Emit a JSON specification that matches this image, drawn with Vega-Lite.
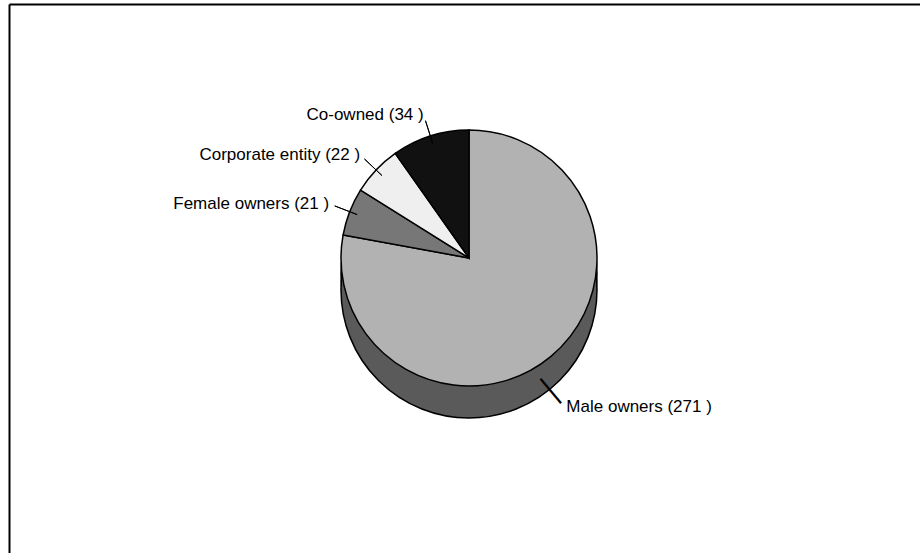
{
  "$schema": "https://vega.github.io/schema/vega-lite/v6.json",
  "width": 911,
  "height": 549,
  "autosize": {"type": "none"},
  "padding": {"left": 9, "top": 4, "right": 0, "bottom": 0},
  "background": "white",
  "config": {"view": {"stroke": null}, "font": "Liberation Sans"},
  "data": {
    "values": [
      {"category": "Male owners", "value": 271, "label": "Male owners (271 )"},
      {"category": "Female owners", "value": 21, "label": "Female owners (21 )"},
      {"category": "Corporate entity", "value": 22, "label": "Corporate entity (22 )"},
      {"category": "Co-owned", "value": 34, "label": "Co-owned (34 )"}
    ]
  },
  "layer": [
    {
      "mark": {"type": "point", "opacity": 0, "size": 0},
      "encoding": {
        "x": {"datum": 0, "type": "quantitative", "scale": {"domain": [0, 1]},
              "axis": {"orient": "top", "domain": true, "domainColor": "black", "domainWidth": 2, "ticks": false, "labels": false, "grid": false, "title": null}},
        "y": {"datum": 0, "type": "quantitative", "scale": {"domain": [0, 1]},
              "axis": {"orient": "left", "domain": true, "domainColor": "black", "domainWidth": 2, "ticks": false, "labels": false, "grid": false, "title": null}}
      }
    },
    {
      "mark": {"type": "arc", "outerRadius": 128, "fill": "#5a5a5a", "stroke": "black", "strokeWidth": 1.5, "xOffset": 4.5, "yOffset": -4.5},
      "encoding": {"theta": {"aggregate": "sum", "field": "value", "type": "quantitative"}}
    },
    {
      "mark": {"type": "arc", "outerRadius": 128, "fill": "#5a5a5a", "stroke": "black", "strokeWidth": 1.5, "xOffset": 4.5, "yOffset": 11.5},
      "encoding": {"theta": {"aggregate": "sum", "field": "value", "type": "quantitative"}}
    },
    {
      "mark": {"type": "arc", "outerRadius": 128, "stroke": "black", "strokeWidth": 1.5, "xOffset": 4.5, "yOffset": -20.5},
      "encoding": {
        "theta": {"field": "value", "type": "quantitative", "stack": true},
        "order": {"field": "category", "sort": "descending"},
        "color": {"field": "category", "type": "nominal", "legend": null,
                  "scale": {"domain": ["Male owners", "Female owners", "Corporate entity", "Co-owned"],
                            "range": ["#b2b2b2", "#777777", "#efefef", "#111111"]}}
      }
    },
    {
      "mark": {"type": "arc", "innerRadius": 120, "outerRadius": 144, "padAngle": 3, "filled": false, "color": "black", "strokeWidth": 1, "xOffset": 4.5, "yOffset": -20.5},
      "encoding": {
        "theta": {"field": "value", "type": "quantitative", "stack": true},
        "order": {"field": "category", "sort": "descending"},
        "detail": {"field": "category"},
        "strokeOpacity": {"condition": {"test": "datum.category !== 'Male owners'", "value": 1}, "value": 0}
      }
    },
    {
      "mark": {"type": "text", "radius": 130, "align": "center", "baseline": "middle", "fontSize": 32, "font": "Liberation Sans", "angle": 50, "color": "black", "xOffset": 4.5, "yOffset": 11.5},
      "encoding": {
        "theta": {"field": "value", "type": "quantitative", "stack": true},
        "order": {"field": "category", "sort": "descending"},
        "detail": {"field": "category"},
        "text": {"condition": {"test": "datum.category === 'Male owners'", "value": "—"}, "value": ""}
      }
    },
    {
      "mark": {"type": "text", "radius": 150, "align": "right", "baseline": "middle", "fontSize": 17, "font": "Liberation Sans", "color": "black", "xOffset": 4.5, "yOffset": -20.5},
      "encoding": {
        "theta": {"field": "value", "type": "quantitative", "stack": true},
        "order": {"field": "category", "sort": "descending"},
        "detail": {"field": "category"},
        "text": {"condition": {"test": "datum.category !== 'Male owners'", "field": "label", "type": "nominal"}, "value": ""}
      }
    },
    {
      "mark": {"type": "text", "radius": 152, "align": "left", "baseline": "middle", "fontSize": 17, "font": "Liberation Sans", "color": "black", "xOffset": 4.5, "yOffset": 11.5},
      "encoding": {
        "theta": {"field": "value", "type": "quantitative", "stack": true},
        "order": {"field": "category", "sort": "descending"},
        "detail": {"field": "category"},
        "text": {"condition": {"test": "datum.category === 'Male owners'", "field": "label", "type": "nominal"}, "value": ""}
      }
    }
  ]
}
